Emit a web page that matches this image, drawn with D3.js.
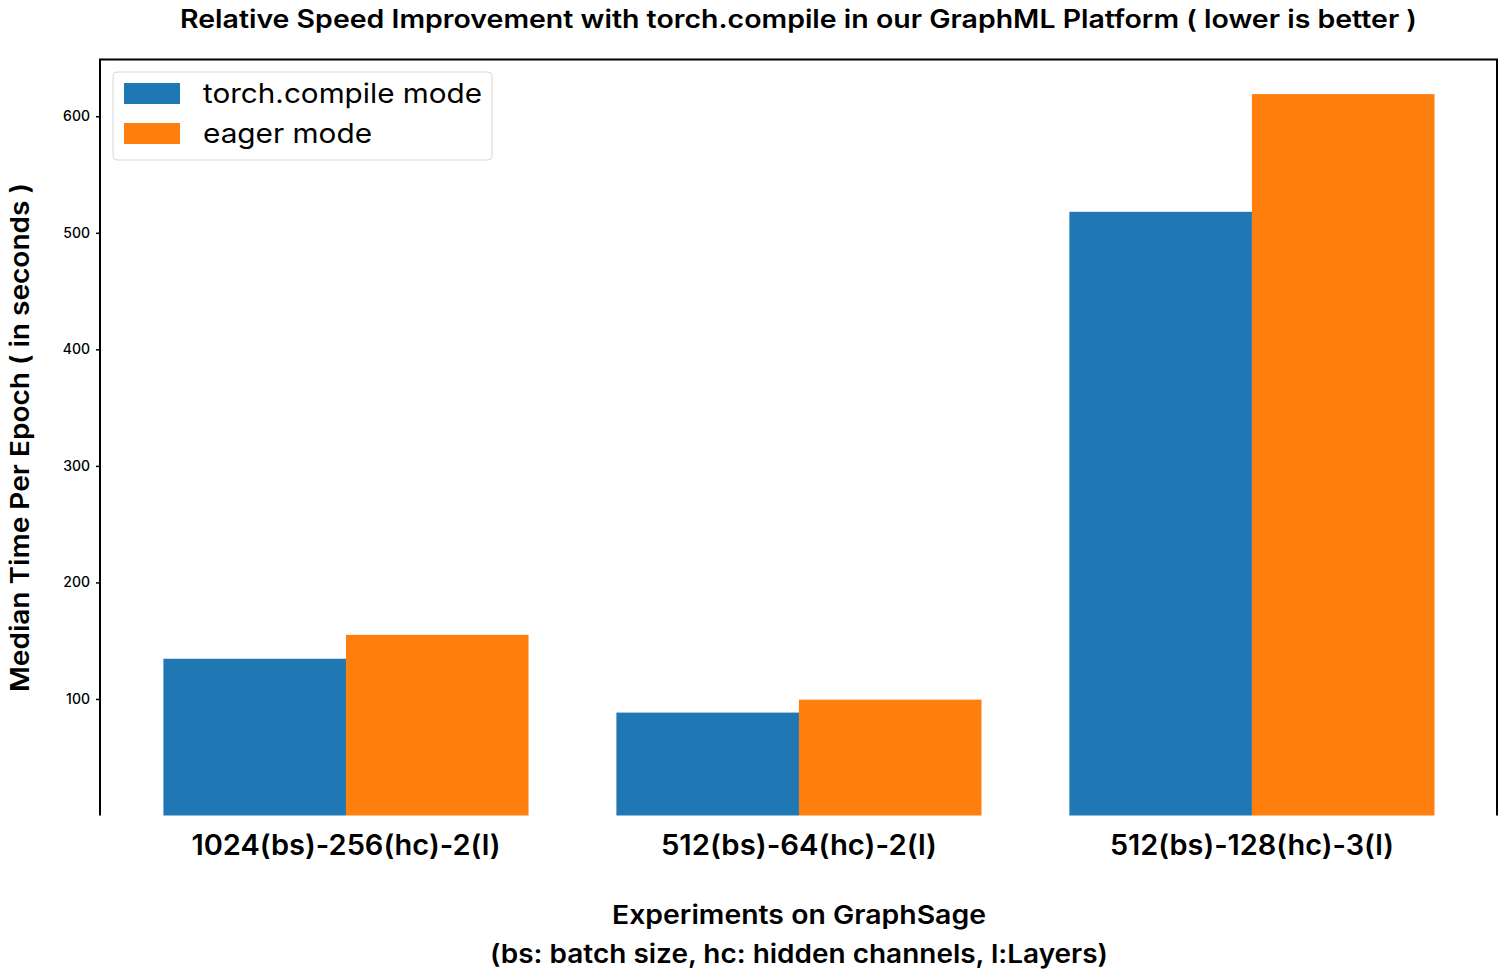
<!DOCTYPE html>
<html>
<head>
<meta charset="utf-8">
<script src="https://cdn.jsdelivr.net/npm/d3@7"></script>
<style>
  body { margin: 0; background: #fff; }
  text { font-family: Inter, "Open Sans", sans-serif; fill: #000; }
</style>
</head>
<body>
<div id="viz"></div>
<script>
// data
const experiments = ['1024(bs)-256(hc)-2(l)', '512(bs)-64(hc)-2(l)', '512(bs)-128(hc)-3(l)'];
const seriesNames = ['torch.compile mode', 'eager mode'];
const compileTimes = [134.5, 88.3, 518];
const eagerTimes = [155, 99.4, 619];
const yTicks = [100, 200, 300, 400, 500, 600];
const colors = ['#1f77b4', '#ff7f0e'];

const width = 1499, height = 973;
const margin = {top: 59.5, right: 2, bottom: 157.5, left: 100};

// the original font (Poppins) is wider, so texts are stretched to its widths
const xTickWidths = [309, 276, 284];
const legendWidths = [279, 169];

const svg = d3.select('#viz').append('svg')
  .attr('width', width)
  .attr('height', height);

const x = d3.scaleLinear().domain([-0.543, 2.541]).range([margin.left, width - margin.right]);
const y = d3.scaleLinear().domain([0, 648.7]).range([height - margin.bottom, margin.top]);

const barW = 0.403;
const series = [compileTimes, eagerTimes];

// bars
series.forEach((vals, s) => {
  svg.append('g').selectAll('rect')
    .data(vals)
    .join('rect')
    .attr('x', (d, i) => x(i - barW + s * barW))
    .attr('width', x(barW) - x(0))
    .attr('y', d => y(d))
    .attr('height', d => y(0) - y(d))
    .attr('fill', colors[s]);
});

// spines: left, top, right (no bottom)
svg.append('path')
  .attr('fill', 'none').attr('stroke', '#000').attr('stroke-width', 2)
  .attr('d', `M${x.range()[0]},${y(0)}V${y.range()[1]}H${x.range()[1]}V${y(0)}`);

// y axis
const yAxis = svg.append('g')
  .attr('transform', `translate(${margin.left},0)`)
  .call(d3.axisLeft(y).tickValues(yTicks).tickSize(4).tickPadding(6));
yAxis.select('.domain').remove();
yAxis.selectAll('.tick line').attr('stroke', '#000').attr('stroke-width', 1.5);
yAxis.selectAll('.tick text').style('font-size', '14px').style('font-weight', 500);

// x tick labels
svg.append('g').selectAll('text')
  .data(experiments)
  .join('text')
  .attr('x', (d, i) => x(i))
  .attr('y', 855)
  .attr('text-anchor', 'middle')
  .attr('textLength', (d, i) => xTickWidths[i])
  .attr('lengthAdjust', 'spacingAndGlyphs')
  .style('font-size', '28px')
  .style('font-weight', 600)
  .text(d => d);

// title
svg.append('text')
  .attr('x', (x.range()[0] + x.range()[1]) / 2)
  .attr('y', 28)
  .attr('text-anchor', 'middle')
  .attr('textLength', 1237)
  .attr('lengthAdjust', 'spacingAndGlyphs')
  .style('font-size', '25px')
  .style('font-weight', 600)
  .text('Relative Speed Improvement with torch.compile in our GraphML Platform ( lower is better )');

// x axis label
const xl = svg.append('text')
  .attr('text-anchor', 'middle')
  .style('font-size', '26px')
  .style('font-weight', 600);
xl.append('tspan').attr('x', 799).attr('y', 924)
  .attr('textLength', 374).attr('lengthAdjust', 'spacingAndGlyphs')
  .text('Experiments on GraphSage');
xl.append('tspan').attr('x', 799).attr('y', 963)
  .attr('textLength', 618).attr('lengthAdjust', 'spacingAndGlyphs')
  .text('(bs: batch size, hc: hidden channels, l:Layers)');

// y axis label
svg.append('text')
  .attr('transform', `translate(29,${(y.range()[0] + y.range()[1]) / 2}) rotate(-90)`)
  .attr('text-anchor', 'middle')
  .attr('textLength', 509)
  .attr('lengthAdjust', 'spacingAndGlyphs')
  .style('font-size', '26px')
  .style('font-weight', 600)
  .text('Median Time Per Epoch ( in seconds )');

// legend
const legend = svg.append('g').attr('transform', 'translate(113,72)');
legend.append('rect')
  .attr('width', 379).attr('height', 88)
  .attr('rx', 4)
  .attr('fill', '#fff').attr('stroke', '#d6d6d6').attr('stroke-width', 1);
legend.selectAll('g.item')
  .data(seriesNames)
  .join('g')
  .attr('class', 'item')
  .attr('transform', (d, i) => `translate(11,${11 + i * 40})`)
  .each(function(d, i) {
    const g = d3.select(this);
    g.append('rect').attr('width', 56).attr('height', 21).attr('fill', colors[i]);
    g.append('text').attr('x', 79).attr('y', 20)
      .attr('textLength', legendWidths[i])
      .attr('lengthAdjust', 'spacingAndGlyphs')
      .style('font-size', '27px')
      .text(d);
  });
</script>
</body>
</html>
